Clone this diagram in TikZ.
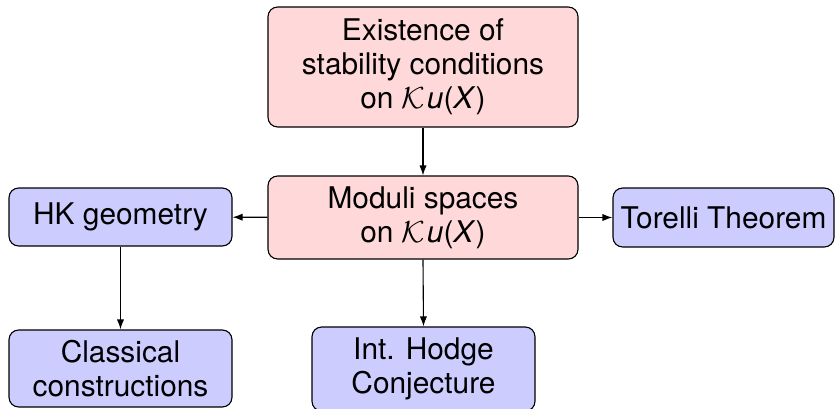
\documentclass[tikz,border=0pt]{standalone}
\usepackage{fontspec}
\setmainfont{TeX Gyre Heros}
\usetikzlibrary{arrows.meta}
\newcommand\KuX{$\mathcal{K}$\kern0.5pt\textit{u}(\textit{X})}
\begin{document}
\begin{tikzpicture}[x=0.36pt,y=-0.36pt,
  box/.style={draw=black, line width=0.4pt, rounded corners=3.5pt, align=center,
    inner sep=0pt, font=\fontsize{10.75}{12.3}\selectfont},
  redbox/.style={box, fill=red!15},
  bluebox/.style={box, fill=blue!20},
  arr/.style={-{Latex[length=3.6pt,width=2.6pt]}, line width=0.4pt}]
\useasboundingbox (0,0) rectangle (835,409);
\node[redbox, minimum width=111.6pt, minimum height=43.2pt] (top) at (423,67)
  {Existence of\\stability conditions\\on \KuX};
\node[redbox, minimum width=111.6pt, minimum height=29.88pt] (mid) at (423,217.5)
  {Moduli spaces\\on \KuX};
\node[bluebox, minimum width=80.28pt, minimum height=20.88pt] (hk) at (120.5,217)
  {HK geometry};
\node[bluebox, minimum width=79.56pt, minimum height=21.24pt] (tor) at (723.5,217.5)
  {Torelli Theorem};
\node[bluebox, minimum width=80.28pt, minimum height=27.72pt] (cla) at (120.5,368.5)
  {Classical\\constructions};
\node[bluebox, minimum width=80.28pt, minimum height=30.24pt] (ihc) at (423.5,369)
  {Int. Hodge\\Conjecture};
\draw[arr] (top) -- (mid);
\draw[arr] (mid) -- (hk);
\draw[arr] (mid) -- (tor);
\draw[arr] (hk) -- (cla);
\draw[arr] (mid.south) -- (ihc.north);
\end{tikzpicture}
\end{document}
